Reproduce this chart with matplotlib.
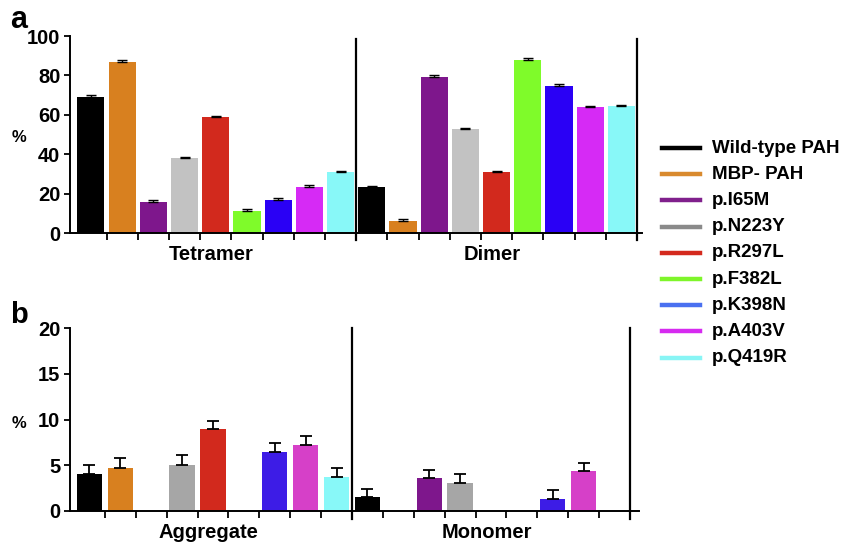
import numpy as np
import matplotlib
matplotlib.use('Agg')
import matplotlib.pyplot as plt
from matplotlib.lines import Line2D

plt.rcParams['font.family'] = ['Liberation Sans', 'DejaVu Sans']
plt.rcParams['font.weight'] = 'bold'

# Datos
variantes = ['Wild-type PAH', 'MBP- PAH', 'p.I65M', 'p.N223Y', 'p.R297L',
             'p.F382L', 'p.K398N', 'p.A403V', 'p.Q419R']

grupos_a = ['Tetramer', 'Dimer']
tetramer = [69.1, 87.0, 15.9, 38.2, 58.8, 11.2, 16.8, 23.4, 30.8]
tetramer_err = [1.0, 0.6, 1.1, 0.6, 0.5, 0.9, 1.1, 0.9, 0.7]
dimer = [23.2, 6.2, 79.3, 52.8, 30.8, 87.8, 74.5, 63.9, 64.4]
dimer_err = [0.6, 0.8, 0.7, 0.5, 0.7, 0.9, 0.9, 0.5, 0.6]

grupos_b = ['Aggregate', 'Monomer']
aggregate = [4.0, 4.75, 0.0, 5.0, 9.0, 0.0, 6.5, 7.25, 3.7]
aggregate_err = [1.0, 1.0, 0.0, 1.1, 0.85, 0.0, 0.9, 0.9, 1.0]
monomer = [1.5, 0.0, 3.6, 3.1, 0.0, 0.0, 1.35, 4.4, 0.0]
monomer_err = [0.9, 0.0, 0.9, 0.9, 0.0, 0.0, 0.9, 0.9, 0.0]

colores_a = ['#000000', '#d8801f', '#7e178c', '#c2c2c2', '#d2291d',
             '#7ffb2a', '#2a00f5', '#d62af5', '#88f8f8']
colores_b = ['#000000', '#d8801f', '#7e178c', '#a6a6a6', '#d2291d',
             '#7ffb2a', '#3d1ce6', '#d640c8', '#88f8f8']
colores_leyenda = ['#000000', '#d98a2e', '#80208c', '#8a8a8a', '#d42a1e',
                   '#7ef52a', '#4a70f0', '#d62af0', '#88f5f5']

W, H = 843, 542
fig = plt.figure(figsize=(W / 100, H / 100), dpi=100)


def panel(rect, series, errs, grupos, colores, ymax, yticks, xlim, vtop, vbot,
          capsize, elw, ancho):
    ax = fig.add_axes(rect)
    n = len(variantes)
    for g, (vals, err) in enumerate(zip(series, errs)):
        x = np.arange(n) + g * n
        vals = np.array(vals)
        err = np.array(err)
        ax.bar(x, vals, width=ancho, color=colores, edgecolor='none', zorder=2)
        m = vals > 0
        ax.errorbar(x[m], vals[m], yerr=[np.zeros(m.sum()), err[m]], fmt='none',
                    ecolor='black', elinewidth=elw, capsize=capsize, capthick=elw, zorder=3)
        ax.text(g * n + (n - 1) / 2 - 0.15, vbot - 0.075, grupos[g],
                transform=ax.get_xaxis_transform(),
                ha='center', va='center', fontsize=14.5, fontweight='bold')
    # separadores verticales
    for xv in [n - 0.5, 2 * n - 0.5]:
        ax.axvline(xv, ymin=vbot, ymax=vtop, color='black', lw=1.6, clip_on=False, zorder=4)
    ax.set_xlim(*xlim)
    ax.set_ylim(0, ymax)
    ax.set_yticks(yticks)
    bordes = [i + 0.5 for i in range(2 * n - 1) if i != n - 1]
    ax.set_xticks(bordes)
    ax.set_xticklabels([])
    ax.tick_params(axis='x', direction='out', length=5, width=1.3)
    ax.tick_params(axis='y', direction='out', length=4, width=1.3, labelsize=14.5, pad=3)
    for lbl in ax.get_yticklabels():
        lbl.set_fontweight('bold')
    ax.spines['top'].set_visible(False)
    ax.spines['right'].set_visible(False)
    ax.spines['left'].set_linewidth(1.4)
    ax.spines['bottom'].set_linewidth(1.4)
    return ax


ax_a = panel([70 / W, 1 - 233 / H, 572 / W, 197 / H], [tetramer, dimer],
             [tetramer_err, dimer_err], grupos_a, colores_a, 100, range(0, 101, 20),
             (-0.67, 17.66), 0.985, -0.036, 3.3, 1.0, 0.87)
ax_b = panel([70 / W, 1 - 511 / H, 569 / W, 183 / H], [aggregate, monomer],
             [aggregate_err, monomer_err], grupos_b, colores_b, 20, range(0, 21, 5),
             (-0.63, 17.79), 1.0, -0.044, 4.5, 1.3, 0.82)

# etiquetas de panel y eje
fig.text(10 / W, 1 - 28 / H, 'a', fontsize=22, fontweight='bold', va='baseline')
fig.text(10 / W, 1 - 323 / H, 'b', fontsize=21, fontweight='bold', va='baseline')
fig.text(19 / W, 1 - 138 / H, '%', fontsize=12, fontweight='bold', ha='center', va='center')
fig.text(19 / W, 1 - 424 / H, '%', fontsize=12, fontweight='bold', ha='center', va='center')

# leyenda manual
y0 = 148
for i, (nombre, c) in enumerate(zip(variantes, colores_leyenda)):
    yy = 1 - (y0 + i * 26.2) / H
    fig.add_artist(Line2D([662 / W, 700 / W], [yy, yy], color=c, lw=3.2,
                          transform=fig.transFigure))
    fig.text(712 / W, yy, nombre, fontsize=13.5, fontweight='bold', va='center', ha='left')

fig.savefig('out.png', dpi=100)
